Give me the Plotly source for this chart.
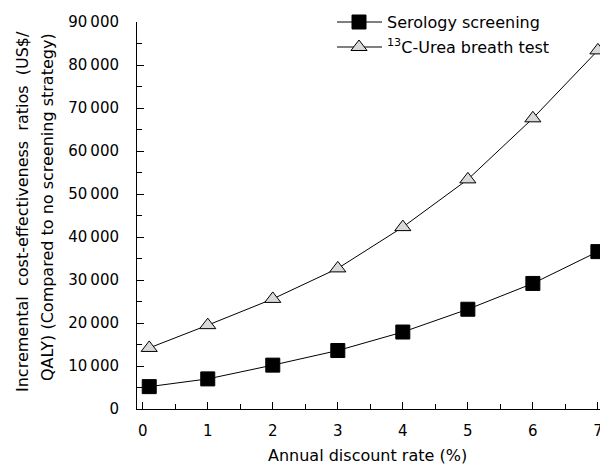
import plotly.graph_objects as go

discount_rate = [0.1, 1, 2, 3, 4, 5, 6, 7]
serology = [5200, 7000, 10200, 13600, 17900, 23200, 29200, 36600]
breath_test = [14200, 19500, 25600, 32700, 42300, 53400, 67600, 83400]

series_names = ["Serology screening", "<sup>13</sup>C-Urea breath test"]

y_tickvals = [0, 10000, 20000, 30000, 40000, 50000, 60000, 70000, 80000, 90000]
y_ticktext = ["0", "10\u2009000", "20\u2009000", "30\u2009000", "40\u2009000",
              "50\u2009000", "60\u2009000", "70\u2009000", "80\u2009000", "90\u2009000"]
x_tickvals = [0, 1, 2, 3, 4, 5, 6, 7]
x_ticktext = ["0", "1", "2", "3", "4", "5", "6", "7"]

FONT = "DejaVu Sans"
# page body has an 8px margin; figure is sized/positioned to fit the window
OFF = 8
W, H = 608 - OFF, 466 - OFF
L, R, T, B = 137 - OFF, 1, 22 - OFF, 57
PW, PH = W - L - R, H - T - B

sq_marker = dict(symbol="square", size=14, color="black", line=dict(color="black", width=1))
tri_marker = dict(symbol="triangle-up", size=14, color="#d9d9d9", line=dict(color="black", width=1))

fig = go.Figure()
fig.add_trace(go.Scatter(
    x=discount_rate, y=serology, mode="lines+markers", name=series_names[0],
    line=dict(color="black", width=1), marker=sq_marker, cliponaxis=False, showlegend=False,
))
fig.add_trace(go.Scatter(
    x=discount_rate, y=breath_test, mode="lines+markers", name=series_names[1],
    line=dict(color="black", width=1), marker=tri_marker, cliponaxis=False, showlegend=False,
))

# window pixel -> paper coords
def px(x):
    return (x - OFF - L) / PW

def py(y):
    return (H - B - (y - OFF)) / PH

legend_rows = [22, 47]
legend_markers = [sq_marker, tri_marker]
shapes = []
annotations = []
for name, yrow, mk in zip(series_names, legend_rows, legend_markers):
    shapes.append(dict(type="line", xref="paper", yref="paper", x0=px(337), x1=px(382),
                       y0=py(yrow), y1=py(yrow), line=dict(color="black", width=1), layer="below"))
    fig.add_trace(go.Scatter(x=[px(359)], y=[py(yrow)], xaxis="x2", yaxis="y2", mode="markers",
                             marker=mk, cliponaxis=False, showlegend=False, hoverinfo="skip"))
    annotations.append(dict(text=name, xref="paper", yref="paper", x=px(385), y=py(yrow),
                            xanchor="left", yanchor="middle", showarrow=False,
                            font=dict(family=FONT, size=16, color="black")))

annotations += [
    dict(text="Incremental  cost-effectiveness  ratios  (US$/", xref="paper", yref="paper",
         x=px(23), y=py(212), textangle=-90, showarrow=False, xanchor="center", yanchor="middle",
         font=dict(family=FONT, size=16, color="black")),
    dict(text="QALY) (Compared to no screening strategy)", xref="paper", yref="paper",
         x=px(47), y=py(207), textangle=-90, showarrow=False, xanchor="center", yanchor="middle",
         font=dict(family=FONT, size=16, color="black")),
    dict(text="Annual discount rate (%)", xref="paper", yref="paper",
         x=px(367), y=py(455), showarrow=False, xanchor="center", yanchor="middle",
         font=dict(family=FONT, size=16, color="black")),
]

fig.update_layout(
    width=W, height=H,
    margin=dict(l=L, r=R, t=T, b=B),
    paper_bgcolor="white", plot_bgcolor="white",
    font=dict(family=FONT, size=15, color="black"),
    showlegend=False,
    xaxis=dict(
        range=[-0.088, 7.14], showline=True, linecolor="black", linewidth=1,
        showgrid=False, zeroline=False, automargin=False,
        tickvals=x_tickvals, ticktext=x_ticktext,
        ticks="inside", ticklen=7, tickcolor="black", tickwidth=1,
        ticklabelstandoff=8,
        minor=dict(ticks="inside", dtick=0.5, tick0=0, ticklen=5, tickcolor="black"),
    ),
    yaxis=dict(
        range=[0, 90000], showline=True, linecolor="black", linewidth=1,
        showgrid=False, zeroline=False, automargin=False,
        tickvals=y_tickvals, ticktext=y_ticktext,
        ticks="inside", ticklen=7, tickcolor="black", tickwidth=1,
        ticklabelstandoff=14,
        minor=dict(ticks="inside", dtick=5000, tick0=0, ticklen=5, tickcolor="black"),
    ),
    xaxis2=dict(overlaying="x", range=[0, 1], visible=False, automargin=False),
    yaxis2=dict(overlaying="y", range=[0, 1], visible=False, automargin=False),
    shapes=shapes,
    annotations=annotations,
)

fig.write_html("out.html")
